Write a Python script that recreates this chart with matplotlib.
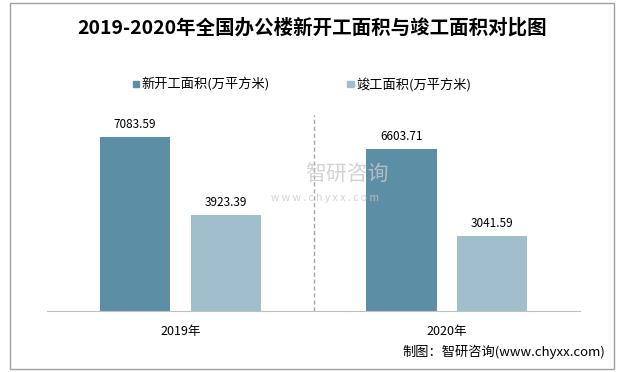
import matplotlib
matplotlib.use("Agg")
import matplotlib.pyplot as plt
from matplotlib.patches import Rectangle
import numpy as np

plt.rcParams['font.family'] = ['Noto Sans CJK SC', 'DejaVu Sans']

years = ["2019年", "2020年"]
new_start = [7083.59, 6603.71]
completed = [3923.39, 3041.59]
series_names = ["新开工面积(万平方米)", "竣工面积(万平方米)"]
colors = ["#5C8FA6", "#A0BECC"]

fig = plt.figure(figsize=(6.25, 3.72), dpi=100)
ax = fig.add_axes([0.0752, 0.164, 0.853, 0.528])

x = np.arange(len(years))
w = 0.263
off = 0.17
b1 = ax.bar(x - off, new_start, w, color=colors[0], label=series_names[0])
b2 = ax.bar(x + off, completed, w, color=colors[1], label=series_names[1])

for bars, vals in ((b1, new_start), (b2, completed)):
    for b, v in zip(bars, vals):
        ax.text(b.get_x() + b.get_width() / 2, v + 250, f"{v:.2f}",
                ha="center", va="bottom", fontsize=8.5, color="#000000")

ax.set_xlim(-0.5, 1.5)
ax.set_ylim(0, 8000)
ax.axvline(0.5, color="#A6A6A6", linestyle=(0, (3, 2)), linewidth=1)
ax.set_xticks(x)
ax.set_xticklabels(years, fontsize=9)
ax.tick_params(axis="x", length=0, pad=10)
ax.set_yticks([])
for s in ["top", "right", "left"]:
    ax.spines[s].set_visible(False)
ax.spines["bottom"].set_color("#BFBFBF")

fig.text(0.5, 0.925, "2019-2020年全国办公楼新开工面积与竣工面积对比图",
         ha="center", va="center", fontsize=14, fontweight="bold")

# legend
for xl, name, c in ((0.212, series_names[0], colors[0]), (0.555, series_names[1], colors[1])):
    fig.patches.append(Rectangle((xl, 0.765), 0.011, 0.018, color=c,
                                 transform=fig.transFigure, figure=fig))
    fig.text(xl + 0.015, 0.774, name, ha="left", va="center", fontsize=9.5)

# watermark
fig.text(0.555, 0.532, "智研咨询", ha="center", va="center", fontsize=15,
         color="#C8C8C8", alpha=0.8)
fig.text(0.52, 0.468, "w w w . c h y x x . c o m", ha="center", va="center",
         fontsize=7.5, color="#C8C8C8", alpha=0.8)

fig.text(0.968, 0.053, "制图：智研咨询(www.chyxx.com)", ha="right", va="center", fontsize=9.5)

fig.patches.append(Rectangle((0.016, 0.008), 0.966, 0.984, fill=False,
                             edgecolor="#A0A0A0", linewidth=1,
                             transform=fig.transFigure, figure=fig))

fig.savefig("out.png", dpi=100)
